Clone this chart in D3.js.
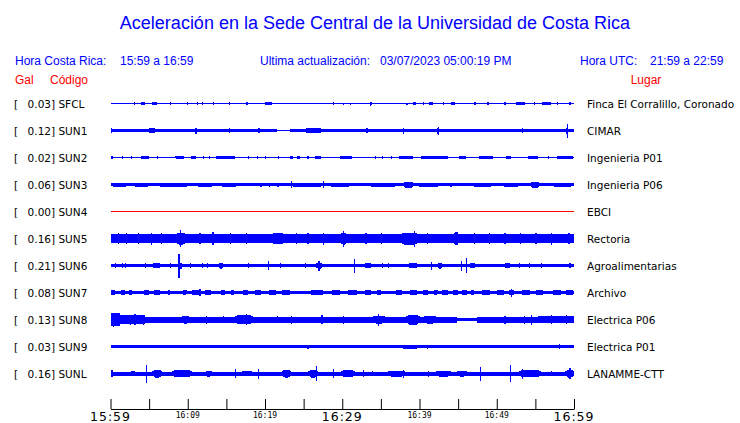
<!DOCTYPE html>
<html><head><meta charset="utf-8">
<script src="https://cdn.jsdelivr.net/npm/d3@7"></script>
<style>body{margin:0;background:#fff}svg{display:block}</style>
</head><body>
<script>
// ---------- DATA ----------
const codes = ["SFCL","SUN1","SUN2","SUN3","SUN4","SUN5","SUN6","SUN7","SUN8","SUN9","SUNL"];
const gal = [0.03,0.12,0.02,0.06,0.00,0.16,0.21,0.08,0.13,0.03,0.16];
const places = ["Finca El Corralillo, Coronado","CIMAR","Ingenieria P01","Ingenieria P06","EBCI","Rectoria","Agroalimentarias","Archivo","Electrica P06","Electrica P01","LANAMME-CTT"];
const tickLabels = ["15:59","16:09","16:19","16:29","16:39","16:49","16:59"];
const header = {cr:"15:59 a 16:59", upd:"03/07/2023 05:00:19 PM", utc:"21:59 a 22:59"};

// base noise level per station: [startMin, endMin, halfAmplitude]
const sfclBase = [[0,60,0.5]];
const sun1Base = [[0,21.5,1.8],[21.5,23.3,0.5],[23.3,60,1.8]];
const sun2Base = [[0,60,0.5]];
const sun3Base = [[0,60,1.1]];
const sun4Base = [[0,60,0.5]];
const sun5Base = [[0,60,4.3]];
const sun6Base = [[0,60,1.7]];
const sun7Base = [[0,60,1.7]];
const sun8Base = [[0,1.2,6.5],[1.2,4.5,4.4],[4.5,44.9,3],[44.9,47.5,1.5],[47.5,55.3,3],[55.3,60,3.8]];
const sun9Base = [[0,60,1.5]];
const sunlBase = [[0,60,2]];

// bursts / spikes per station: [startMin, endMin, peakHalfAmplitude]
const sfclEvents = [[3.0,3.0,1.3],[3.9,4.5,1.5],[5.2,6.2,1.3],[7.7,7.7,1.3],[9.9,9.9,1.3],[11.2,11.2,1.3],[11.8,11.8,1.3],[13.3,13.3,1.2],[15.3,15.3,1.2],[17.6,17.6,1.3],[19.8,21.1,1.5],[28.8,28.8,1.3],[30.1,30.1,1],[31.0,31.0,1],[33.5,33.9,2],[38.3,38.3,1],[39.1,39.6,1.5],[40.4,40.4,1.2],[41.1,41.9,1.5],[43.0,43.0,1.5],[43.9,44.7,1.5],[47.1,47.1,1.5],[48.8,48.8,1.2],[51.0,51.0,1.2],[52.3,53.8,1.5],[54.8,54.8,1.2],[55.7,57.2,1.5],[57.8,57.8,1.5],[59.4,59.4,1.2]];
const sun1Events = [[0.1,0.1,2.5],[4.9,5.8,2.8],[11.0,11.0,3],[15.3,15.3,2.5],[19.1,19.3,2.5],[25.2,27.3,2.5],[33.1,33.3,2.5],[37.8,37.9,3],[42.2,42.6,3],[42.4,42.4,4],[53.3,53.3,2.5],[58.9,59.3,3],[59.1,59.1,7]];
const sun2Events = [[0,0.43,1.5],[1.5,1.5,1.3],[2.6,2.6,1.3],[3.7,5.2,1.5],[6.0,6.0,1.5],[8.2,9.7,1.4],[10.3,11.2,1.5],[12.0,12.0,1.3],[12.7,12.7,1.3],[13.5,16.3,1.5],[17.8,17.8,1.3],[18.9,18.9,1.3],[20.0,20.0,1.5],[21.7,21.7,1.3],[23.2,23.7,1.5],[24.1,24.6,1.3],[25.3,25.8,1.3],[26.3,27.5,1.3],[29.5,31.4,1.5],[34.2,34.2,1.3],[35.1,35.1,1.3],[36.3,36.3,1.3],[37.2,39.4,1.5],[40.0,43.9,1.5],[44.9,46.2,1.4],[47.5,49.7,1.4],[51.0,52.0,1.4],[53.8,55.5,1.5],[56.6,56.6,1.3],[57.6,60,1.5]];
const sun3Events = [[0,2.4,2],[2.8,5.2,2],[6.0,10.3,2],[11.0,13.5,2],[14.0,16.6,2],[19.4,19.6,2],[20.5,20.7,2],[21.5,21.9,2],[23.2,27.7,2],[23.4,23.4,3.5],[27.5,27.5,3.5],[28.2,31.2,2],[33.3,37.2,2],[37.8,39.4,3],[39.6,42.8,2],[44.0,44.0,2],[46.7,49.7,2],[50.5,53.1,2],[54.2,55.7,3],[57.0,60,2]];
const sun4Events = [];
const sun5Events = [[1.0,1.1,5.5],[2.0,2.1,5.5],[3.5,3.6,5.5],[5.2,5.3,6],[6.5,6.6,5.5],[8.5,9.8,6],[9.0,9.1,8.5],[11.5,11.6,5.5],[13.2,13.4,6.5],[15.5,15.6,5.5],[17.5,17.6,5.5],[20.8,22.6,5.5],[24.0,24.1,5.5],[25.5,25.6,5.5],[27.5,27.6,6],[29.8,30.6,6],[30.1,30.2,8],[33.0,33.1,5.5],[35.0,35.1,5.5],[37.6,39.8,6],[39.3,39.4,8],[41.0,41.1,5.5],[44.4,45.1,6.5],[47.0,47.1,5.5],[49.0,49.1,5.5],[51.0,51.1,5.5],[53.0,53.1,5.5],[55.0,55.1,5.5],[57.0,57.1,6],[59.2,59.6,5.5]];
const sun6Events = [[0.6,0.6,2.7],[1.5,1.5,2.7],[1.9,1.9,2.5],[4.5,4.5,2.5],[5.4,6.5,2.5],[7.7,7.7,2.5],[8.8,8.8,12],[9.0,9.3,3],[10.3,10.3,2.5],[11.8,11.8,2.5],[12.5,12.5,2.5],[14.0,14.6,3],[17.8,17.8,2.5],[20.4,20.4,4.5],[21.9,21.9,2.5],[25.2,25.2,2.5],[26.5,27.5,3],[26.9,26.9,5],[31.5,31.5,7],[32.9,33.8,2.5],[35.1,35.1,2.5],[35.9,35.9,2.5],[38.5,39.8,2.5],[41.5,41.5,4],[42.4,43.0,3],[45.4,45.4,5],[46.0,46.0,7.5],[46.5,47.3,2.7],[51.0,51.8,2.5],[52.9,52.9,2.5],[54.2,54.2,2.5],[55.7,55.7,2.5],[59.4,59.4,2.7]];
const sun7Events = [[0,0.65,2.5],[1.3,1.9,2.6],[2.3,2.8,2.6],[4.3,5.0,2.6],[5.6,6.5,2.6],[7.5,7.5,2.5],[9.3,9.9,2.6],[10.5,11.6,2.6],[12.2,13.1,2.6],[11.5,11.5,3.8],[14.2,14.9,2.6],[15.5,16.1,2.6],[17.0,17.9,2.5],[18.6,19.6,2.5],[20.4,21.5,2.6],[22.1,23.4,2.6],[25.8,27.7,2.6],[28.6,29.8,2.6],[30.6,32.0,2.6],[32.9,33.8,2.5],[34.4,35.1,2.5],[36.8,37.9,2.6],[38.6,39.8,2.6],[40.4,41.2,2.5],[41.8,42.4,2.5],[42.8,43.8,2.6],[44.3,45.0,2.6],[45.4,46.2,2.5],[46.6,47.1,2.5],[48.0,49.2,2.6],[49.9,51.0,2.6],[51.5,52.3,2.6],[51.8,51.8,4],[53.1,54.4,2.6],[55.0,56.1,2.6],[57.2,58.4,2.6],[58.9,60,2.6]];
const sun8Events = [[0.3,0.4,7],[2.5,2.6,5],[3.0,3.4,5.5],[4.2,4.3,5],[9.3,10.1,4],[12.3,12.4,4],[14.5,14.6,3.8],[16.1,18.5,4.5],[17.5,17.6,5.5],[21.5,21.6,3.8],[23.4,23.5,4],[27.3,27.4,4.5],[30.1,30.2,4],[34.0,35.5,4],[34.6,34.7,6],[38.3,40.0,5],[40.6,42.2,4],[51.0,51.1,4],[53.5,53.6,4],[54.4,54.5,5],[57.0,57.1,4.5],[59.0,59.1,4.5]];
const sun9Events = [[25.5,25.5,2],[37.5,40.0,2],[41.0,41.0,2],[58.0,58.0,2.3]];
const sunlEvents = [[0.0,0.3,3.5],[2.6,3.2,2.8],[4.6,4.6,9],[5.4,6.7,4],[8.0,10.5,3.5],[12.3,13.1,3],[16.1,16.1,4.5],[17.0,18.3,2.8],[19.1,19.1,5],[22.2,23.4,4],[25.6,26.9,4],[26.6,26.6,7.5],[28.8,28.8,4.5],[29.9,31.6,3.5],[32.7,32.7,3.5],[33.8,33.8,2.8],[35.9,38.1,3],[37.9,37.9,4],[41.1,41.1,3],[42.2,44.1,3],[44.9,46.2,3],[47.8,47.8,7],[51.7,51.7,8.5],[52.9,55.7,3.5],[53.3,53.3,5],[57.0,57.0,2.8],[58.9,60,4],[59.4,59.4,5.5]];

const bases = [sfclBase,sun1Base,sun2Base,sun3Base,sun4Base,sun5Base,sun6Base,sun7Base,sun8Base,sun9Base,sunlBase];
const events = [sfclEvents,sun1Events,sun2Events,sun3Events,sun4Events,sun5Events,sun6Events,sun7Events,sun8Events,sun9Events,sunlEvents];

// ---------- STYLE / LAYOUT ----------
const W = 740, H = 423;
const BLUE = "#0000ff", RED = "#ff0000";
const traceColor = c => c === "SUN4" ? RED : BLUE;

const svg = d3.select("body").append("svg").attr("width", W).attr("height", H);

const x = d3.scaleLinear().domain([0, 60]).range([110.5, 574]);
const y = d3.scalePoint().domain(codes).range([103.5, 373.5]);
const amp = d3.scaleLinear().domain([0, 10]).range([0, 10]);

// title
svg.append("text").attr("x", 375).attr("y", 29).attr("text-anchor", "middle")
  .attr("font-family", "Liberation Sans, Arial, sans-serif").attr("font-size", 18)
  .attr("fill", BLUE).text("Aceleración en la Sede Central de la Universidad de Costa Rica");

const hdr = (tx, ty, t, col, anchor) => svg.append("text").attr("x", tx).attr("y", ty)
  .attr("text-anchor", anchor || "start")
  .attr("font-family", "Liberation Sans, Arial, sans-serif").attr("font-size", 12)
  .attr("fill", col).text(t);
hdr(15, 65, "Hora Costa Rica:", BLUE);
hdr(120, 65, header.cr, BLUE);
hdr(260, 65, "Ultima actualización:", BLUE);
hdr(380, 65, header.upd, BLUE);
hdr(580, 65, "Hora UTC:", BLUE);
hdr(650, 65, header.utc, BLUE);
hdr(15, 84, "Gal", RED);
hdr(50, 84, "Código", RED);
hdr(646, 84, "Lugar", RED, "middle");

// left & right labels
const lab = svg.append("g").attr("font-family", "DejaVu Sans, sans-serif").attr("font-size", 10.5).attr("fill", "#000");
codes.forEach((c, i) => {
  const yy = y(c) + 4;
  lab.append("text").attr("x", 14).attr("y", yy).text("[");
  lab.append("text").attr("x", 51).attr("y", yy).attr("text-anchor", "end").text(gal[i].toFixed(2));
  lab.append("text").attr("x", 51).attr("y", yy).attr("xml:space", "preserve").text("] " + c);
  lab.append("text").attr("x", 587).attr("y", yy).text(places[i]);
});

// traces
const tr = svg.append("g").attr("shape-rendering", "crispEdges");
codes.forEach((c, i) => {
  const g = tr.append("g").attr("fill", traceColor(c));
  const cy = y(c);
  const baseAt = m => { const s = bases[i].find(d => m >= d[0] && m <= d[1]); return s ? s[2] : 0.5; };
  g.selectAll("rect.base").data(bases[i]).join("rect").attr("class", "base")
    .attr("x", d => x(d[0])).attr("width", d => x(d[1]) - x(d[0]))
    .attr("y", d => cy - amp(d[2])).attr("height", d => Math.max(1, 2 * amp(d[2])));
  const narrow = events[i].filter(d => x(d[1]) - x(d[0]) < 3);
  const wide = events[i].filter(d => x(d[1]) - x(d[0]) >= 3);
  g.selectAll("rect.ev").data(narrow).join("rect").attr("class", "ev")
    .attr("x", d => x(d[0])).attr("width", d => Math.max(1.2, x(d[1]) - x(d[0])))
    .attr("y", d => cy - amp(d[2])).attr("height", d => 2 * amp(d[2]));
  // bursts drawn as tapered envelopes
  g.selectAll("path.ev").data(wide).join("path").attr("class", "ev")
    .attr("d", d => {
      const x0 = x(d[0]), x1 = x(d[1]), w = x1 - x0;
      const b = amp(Math.min(baseAt(d[0]), d[2])), p = amp(d[2]);
      const r = Math.min(w * 0.3, 3);
      return `M${x0},${cy - b}L${x0 + r},${cy - p}L${x1 - r},${cy - p}L${x1},${cy - b}` +
             `L${x1},${cy + b}L${x1 - r},${cy + p}L${x0 + r},${cy + p}L${x0},${cy + b}Z`;
    });
});

// time axis
const axisY = 409;
const ax = svg.append("g").attr("transform", `translate(0,${axisY})`)
  .call(d3.axisBottom(x).tickValues(d3.range(0, 61, 5)).tickSizeInner(-10).tickSizeOuter(0).tickFormat(""));
ax.select(".domain").attr("stroke", "#000");
ax.selectAll(".tick line").attr("stroke", "#000");
tickLabels.forEach((t, i) => {
  const big = i % 3 === 0;
  svg.append("text").attr("x", x(i * 10)).attr("y", big ? 421 : 418)
    .attr("text-anchor", "middle").attr("font-family", big ? "DejaVu Sans, sans-serif" : "DejaVu Sans Mono, monospace")
    .attr("letter-spacing", big ? 1 : 0)
    .attr("font-size", big ? 12.5 : 8).attr("fill", "#000").text(t);
});
</script>
</body></html>
